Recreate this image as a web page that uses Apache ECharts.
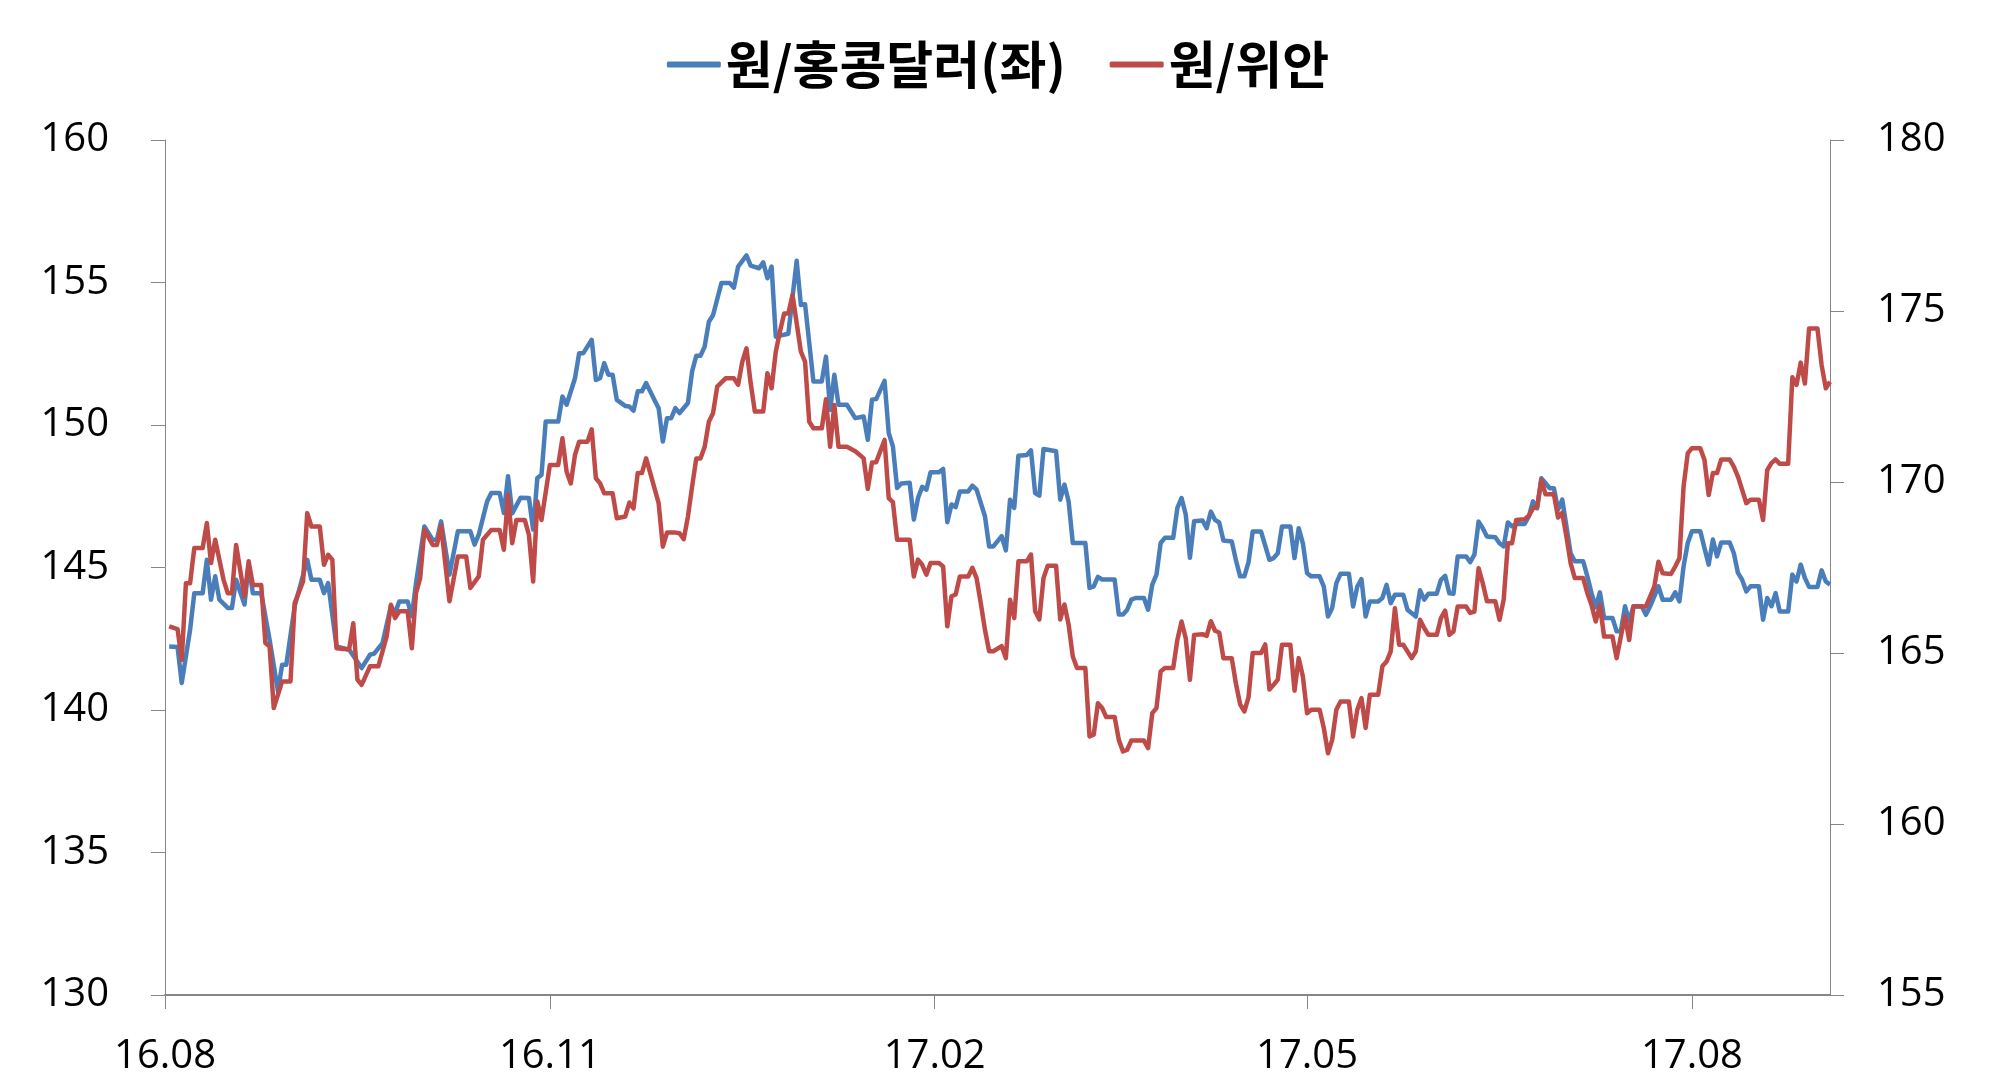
<!DOCTYPE html>
<html>
<head>
<meta charset="utf-8">
<script src="https://cdn.jsdelivr.net/npm/echarts@6/dist/echarts.min.js"></script>
<style>
html,body{margin:0;padding:0;background:#fff;}
#chart{width:1996px;height:1087px;}
</style>
</head>
<body>
<div id="chart"></div>
<script>
const seriesNames = ['원/홍콩달러(좌)', '원/위안'];
const xTickDates = ['2016-08-01', '2016-11-01', '2017-02-01', '2017-05-01', '2017-08-01'];
const xTickLabels = ['16.08', '16.11', '17.02', '17.05', '17.08'];
const xRange = ['2016-08-01', '2017-09-03'];
const leftTicks = [130, 135, 140, 145, 150, 155, 160];
const rightTicks = [155, 160, 165, 170, 175, 180];

const hkdDates = [
'2016-08-02','2016-08-04','2016-08-05','2016-08-07','2016-08-08','2016-08-10','2016-08-11','2016-08-12','2016-08-13','2016-08-14',
'2016-08-16','2016-08-17','2016-08-18','2016-08-20','2016-08-21','2016-08-22','2016-08-24','2016-08-26','2016-08-28','2016-08-29',
'2016-08-30','2016-09-01','2016-09-04','2016-09-05','2016-09-07','2016-09-08','2016-09-09','2016-09-11','2016-09-14','2016-09-17',
'2016-09-19','2016-09-20','2016-09-22','2016-09-24','2016-09-25','2016-09-26','2016-09-28','2016-09-29','2016-09-30','2016-10-02',
'2016-10-04','2016-10-05','2016-10-06','2016-10-08','2016-10-10','2016-10-13','2016-10-14','2016-10-15','2016-10-17','2016-10-18',
'2016-10-20','2016-10-21','2016-10-22','2016-10-23','2016-10-25','2016-10-27','2016-10-28','2016-10-29','2016-10-30','2016-10-31',
'2016-11-03','2016-11-04','2016-11-05','2016-11-07','2016-11-08','2016-11-09','2016-11-11','2016-11-12','2016-11-13','2016-11-14',
'2016-11-15','2016-11-16','2016-11-17','2016-11-19','2016-11-20','2016-11-21','2016-11-22','2016-11-23','2016-11-24','2016-11-26',
'2016-11-27','2016-11-28','2016-11-29','2016-11-30','2016-12-01','2016-12-02','2016-12-04','2016-12-05','2016-12-06','2016-12-07',
'2016-12-08','2016-12-09','2016-12-10','2016-12-12','2016-12-14','2016-12-15','2016-12-16','2016-12-18','2016-12-19','2016-12-21',
'2016-12-22','2016-12-23','2016-12-24','2016-12-25','2016-12-28','2016-12-30','2016-12-31','2017-01-01','2017-01-03','2017-01-05',
'2017-01-06','2017-01-07','2017-01-08','2017-01-09','2017-01-11','2017-01-13','2017-01-15','2017-01-16','2017-01-17','2017-01-18',
'2017-01-20','2017-01-21','2017-01-22','2017-01-23','2017-01-24','2017-01-26','2017-01-27','2017-01-28','2017-01-29','2017-01-30',
'2017-01-31','2017-02-02','2017-02-03','2017-02-04','2017-02-05','2017-02-06','2017-02-07','2017-02-09','2017-02-10','2017-02-11',
'2017-02-13','2017-02-14','2017-02-15','2017-02-17','2017-02-18','2017-02-19','2017-02-20','2017-02-21','2017-02-23','2017-02-24',
'2017-02-25','2017-02-26','2017-02-27','2017-03-02','2017-03-03','2017-03-04','2017-03-05','2017-03-06','2017-03-09','2017-03-10',
'2017-03-11','2017-03-12','2017-03-13','2017-03-16','2017-03-17','2017-03-18','2017-03-19','2017-03-20','2017-03-21','2017-03-23',
'2017-03-24','2017-03-25','2017-03-26','2017-03-27','2017-03-28','2017-03-30','2017-03-31','2017-04-01','2017-04-02','2017-04-03',
'2017-04-04','2017-04-06','2017-04-07','2017-04-08','2017-04-09','2017-04-10','2017-04-11','2017-04-13','2017-04-14','2017-04-15',
'2017-04-16','2017-04-17','2017-04-18','2017-04-20','2017-04-22','2017-04-23','2017-04-24','2017-04-25','2017-04-27','2017-04-28',
'2017-04-29','2017-04-30','2017-05-01','2017-05-02','2017-05-04','2017-05-05','2017-05-06','2017-05-07','2017-05-08','2017-05-09',
'2017-05-11','2017-05-12','2017-05-13','2017-05-14','2017-05-15','2017-05-16','2017-05-18','2017-05-19','2017-05-20','2017-05-21',
'2017-05-22','2017-05-24','2017-05-25','2017-05-27','2017-05-28','2017-05-29','2017-05-30','2017-06-01','2017-06-02','2017-06-03',
'2017-06-04','2017-06-05','2017-06-06','2017-06-08','2017-06-09','2017-06-10','2017-06-11','2017-06-12','2017-06-13','2017-06-15',
'2017-06-16','2017-06-17','2017-06-18','2017-06-19','2017-06-20','2017-06-22','2017-06-23','2017-06-24','2017-06-25','2017-06-26',
'2017-06-27','2017-06-28','2017-06-29','2017-06-30','2017-07-01','2017-07-02','2017-07-03','2017-07-04','2017-07-06','2017-07-07',
'2017-07-08','2017-07-09','2017-07-10','2017-07-11','2017-07-13','2017-07-14','2017-07-15','2017-07-16','2017-07-17','2017-07-18',
'2017-07-20','2017-07-21','2017-07-22','2017-07-23','2017-07-24','2017-07-25','2017-07-27','2017-07-28','2017-07-29','2017-07-30',
'2017-07-31','2017-08-01','2017-08-03','2017-08-04','2017-08-05','2017-08-06','2017-08-07','2017-08-08','2017-08-10','2017-08-11',
'2017-08-12','2017-08-13','2017-08-14','2017-08-15','2017-08-17','2017-08-18','2017-08-19','2017-08-20','2017-08-21','2017-08-22',
'2017-08-24','2017-08-25','2017-08-26','2017-08-27','2017-08-28','2017-08-29','2017-08-31','2017-09-01','2017-09-02','2017-09-03'
];
const hkdValues = [
142.23,142.21,140.95,142.82,144.10,144.10,145.27,143.87,144.69,143.87,
143.58,143.58,144.57,143.70,145.10,144.10,144.10,142.47,140.66,141.59,
141.59,143.64,145.27,144.57,144.57,144.10,144.45,142.23,142.12,141.47,
141.94,141.98,142.35,143.64,143.40,143.81,143.81,143.29,144.45,146.44,
145.97,145.97,146.62,144.75,146.27,146.27,145.80,146.15,147.32,147.61,
147.61,146.91,148.20,146.90,147.45,147.44,146.33,148.14,148.25,150.12,
150.12,151.00,150.71,151.64,152.52,152.52,152.99,151.58,151.64,152.17,
151.76,151.76,150.88,150.67,150.65,150.50,151.18,151.18,151.47,150.88,
150.59,149.42,150.24,150.24,150.59,150.42,150.77,151.88,152.43,152.43,
152.75,153.62,153.85,154.98,154.98,154.82,155.56,155.95,155.59,155.50,
155.71,155.15,155.56,153.10,153.20,155.76,154.21,154.24,151.53,151.53,
152.40,150.53,151.76,150.71,150.71,150.24,150.30,149.48,150.89,150.91,
151.55,149.72,149.25,147.79,147.95,147.97,146.68,147.44,147.83,147.73,
148.34,148.34,148.46,146.59,147.21,147.12,147.67,147.67,147.87,147.73,
146.80,145.74,145.74,146.10,145.60,147.38,147.09,148.92,148.95,149.11,
147.61,147.52,149.16,149.08,147.38,147.91,147.32,145.86,145.86,144.28,
144.34,144.67,144.58,144.58,143.35,143.35,143.52,143.87,143.93,143.93,
143.52,144.40,144.75,145.86,146.04,146.04,147.09,147.44,146.86,145.34,
146.62,146.65,146.38,146.96,146.67,146.58,145.95,145.91,145.25,144.69,
144.69,145.18,146.26,146.26,145.27,145.33,145.50,146.44,146.44,145.33,
146.38,145.85,144.80,144.69,144.69,144.33,143.28,143.58,144.45,144.78,
144.78,143.63,144.33,144.59,143.28,143.81,143.81,143.93,144.39,143.75,
144.04,144.04,143.52,143.28,144.20,143.87,144.08,144.08,144.57,144.71,
144.10,144.08,145.39,145.39,145.19,145.45,146.61,146.38,146.09,146.06,
145.85,145.74,146.58,146.44,146.53,146.53,146.79,147.32,147.08,148.13,
147.96,147.78,147.78,147.03,147.38,146.44,145.50,145.22,145.22,144.69,
144.10,143.60,144.13,143.23,143.23,142.76,142.76,143.64,143.11,143.64,
143.64,143.34,143.64,143.99,144.34,143.87,143.87,144.13,143.81,145.04,
145.86,146.27,146.27,145.68,145.10,145.98,145.39,145.88,145.88,145.51,
144.81,144.57,144.16,144.34,144.34,143.17,143.93,143.64,144.10,143.46,
143.46,144.75,144.51,145.10,144.63,144.32,144.32,144.90,144.51,144.40
];

const cnyDates = [
'2016-08-02','2016-08-04','2016-08-05','2016-08-06','2016-08-07','2016-08-08','2016-08-10','2016-08-11','2016-08-12','2016-08-13',
'2016-08-15','2016-08-16','2016-08-17','2016-08-18','2016-08-20','2016-08-21','2016-08-22','2016-08-24','2016-08-25','2016-08-26',
'2016-08-27','2016-08-29','2016-08-31','2016-09-01','2016-09-03','2016-09-04','2016-09-05','2016-09-07','2016-09-08','2016-09-09',
'2016-09-10','2016-09-11','2016-09-14','2016-09-15','2016-09-16','2016-09-17','2016-09-19','2016-09-21','2016-09-23','2016-09-24',
'2016-09-25','2016-09-26','2016-09-28','2016-09-29','2016-09-30','2016-10-01','2016-10-02','2016-10-04','2016-10-05','2016-10-06',
'2016-10-08','2016-10-10','2016-10-12','2016-10-13','2016-10-15','2016-10-16','2016-10-18','2016-10-20','2016-10-21','2016-10-22',
'2016-10-23','2016-10-24','2016-10-26','2016-10-27','2016-10-28','2016-10-29','2016-10-30','2016-11-01','2016-11-03','2016-11-04',
'2016-11-05','2016-11-06','2016-11-07','2016-11-08','2016-11-10','2016-11-11','2016-11-12','2016-11-13','2016-11-14','2016-11-16',
'2016-11-17','2016-11-19','2016-11-20','2016-11-21','2016-11-22','2016-11-23','2016-11-24','2016-11-25','2016-11-27','2016-11-28',
'2016-11-29','2016-12-01','2016-12-02','2016-12-03','2016-12-04','2016-12-05','2016-12-06','2016-12-07','2016-12-08','2016-12-09',
'2016-12-10','2016-12-11','2016-12-13','2016-12-15','2016-12-16','2016-12-17','2016-12-18','2016-12-19','2016-12-20','2016-12-22',
'2016-12-23','2016-12-24','2016-12-25','2016-12-26','2016-12-27','2016-12-28','2016-12-29','2016-12-31','2017-01-01','2017-01-02',
'2017-01-03','2017-01-05','2017-01-06','2017-01-07','2017-01-08','2017-01-09','2017-01-11','2017-01-13','2017-01-14','2017-01-15',
'2017-01-16','2017-01-17','2017-01-18','2017-01-20','2017-01-21','2017-01-22','2017-01-23','2017-01-26','2017-01-27','2017-01-28',
'2017-01-29','2017-01-30','2017-01-31','2017-02-02','2017-02-03','2017-02-04','2017-02-05','2017-02-06','2017-02-07','2017-02-09',
'2017-02-10','2017-02-11','2017-02-12','2017-02-13','2017-02-14','2017-02-15','2017-02-17','2017-02-18','2017-02-19','2017-02-20',
'2017-02-21','2017-02-23','2017-02-24','2017-02-25','2017-02-26','2017-02-27','2017-02-28','2017-03-02','2017-03-03','2017-03-04',
'2017-03-05','2017-03-06','2017-03-07','2017-03-09','2017-03-10','2017-03-11','2017-03-12','2017-03-13','2017-03-14','2017-03-16',
'2017-03-17','2017-03-18','2017-03-19','2017-03-20','2017-03-23','2017-03-24','2017-03-25','2017-03-26','2017-03-27','2017-03-28',
'2017-03-30','2017-03-31','2017-04-01','2017-04-02','2017-04-03','2017-04-04','2017-04-06','2017-04-07','2017-04-08','2017-04-09',
'2017-04-10','2017-04-11','2017-04-13','2017-04-14','2017-04-15','2017-04-16','2017-04-17','2017-04-18','2017-04-20','2017-04-21',
'2017-04-22','2017-04-23','2017-04-24','2017-04-25','2017-04-27','2017-04-28','2017-04-29','2017-04-30','2017-05-01','2017-05-02',
'2017-05-04','2017-05-05','2017-05-06','2017-05-07','2017-05-08','2017-05-09','2017-05-11','2017-05-12','2017-05-13','2017-05-14',
'2017-05-15','2017-05-16','2017-05-18','2017-05-19','2017-05-20','2017-05-21','2017-05-22','2017-05-23','2017-05-24','2017-05-26',
'2017-05-27','2017-05-28','2017-05-29','2017-05-30','2017-06-01','2017-06-02','2017-06-03','2017-06-04','2017-06-05','2017-06-06',
'2017-06-08','2017-06-09','2017-06-10','2017-06-11','2017-06-12','2017-06-13','2017-06-15','2017-06-16','2017-06-17','2017-06-18',
'2017-06-19','2017-06-20','2017-06-22','2017-06-23','2017-06-24','2017-06-25','2017-06-26','2017-06-27','2017-06-29','2017-06-30',
'2017-07-01','2017-07-02','2017-07-03','2017-07-04','2017-07-06','2017-07-07','2017-07-08','2017-07-09','2017-07-10','2017-07-11',
'2017-07-13','2017-07-14','2017-07-15','2017-07-16','2017-07-17','2017-07-18','2017-07-21','2017-07-22','2017-07-23','2017-07-24',
'2017-07-25','2017-07-27','2017-07-28','2017-07-29','2017-07-30','2017-07-31','2017-08-01','2017-08-03','2017-08-04','2017-08-05',
'2017-08-06','2017-08-07','2017-08-08','2017-08-10','2017-08-11','2017-08-12','2017-08-13','2017-08-14','2017-08-15','2017-08-17',
'2017-08-18','2017-08-19','2017-08-20','2017-08-21','2017-08-22','2017-08-24','2017-08-25','2017-08-26','2017-08-27','2017-08-28',
'2017-08-29','2017-08-31','2017-09-01','2017-09-02','2017-09-03'
];
const cnyValues = [
165.78,165.70,164.80,167.04,167.04,168.07,168.07,168.80,167.63,168.31,
167.14,166.75,166.75,168.16,166.65,167.68,166.99,166.99,165.29,165.19,
163.39,164.17,164.17,166.46,167.09,169.09,168.70,168.70,167.58,167.87,
167.73,165.14,165.10,165.87,164.22,164.07,164.61,164.61,165.49,166.41,
166.02,166.22,166.22,165.14,166.75,167.19,168.60,168.16,168.16,168.72,
166.51,167.82,167.82,166.90,167.24,168.31,168.60,168.60,168.02,169.62,
168.21,168.89,168.89,168.45,167.09,169.43,168.89,170.50,170.50,171.28,
170.30,169.96,170.79,171.18,171.18,171.54,170.11,169.96,169.67,169.67,
168.94,168.99,169.40,169.23,170.26,170.26,170.69,170.26,169.38,168.11,
168.52,168.52,168.50,168.33,168.99,169.87,170.69,170.69,171.03,171.76,
172.01,172.79,173.03,173.03,172.84,173.52,173.91,172.89,172.06,172.06,
173.18,172.74,173.81,174.40,174.93,174.93,175.47,173.81,173.52,171.76,
171.57,171.57,172.42,171.03,172.25,171.03,171.03,170.90,170.80,170.69,
169.80,170.57,170.58,171.23,169.53,169.41,168.31,168.31,167.24,167.73,
167.58,167.29,167.63,167.63,167.53,165.78,166.66,166.71,167.24,167.24,
167.49,167.19,166.46,165.68,165.05,165.05,165.20,164.85,166.56,166.02,
167.68,167.68,167.88,166.22,165.98,167.19,167.55,167.55,165.98,166.42,
165.83,164.90,164.56,164.56,162.56,162.61,163.53,163.39,163.13,163.13,
162.46,162.12,162.17,162.44,162.44,162.22,163.24,163.39,164.46,164.56,
164.56,165.39,165.92,165.43,164.22,165.53,165.55,165.50,165.93,165.65,
165.60,164.85,164.85,164.10,163.50,163.29,163.70,165.00,165.00,165.25,
163.93,164.07,164.22,165.24,165.24,163.90,164.85,164.31,163.24,163.34,
163.34,162.81,162.07,162.46,163.34,163.58,163.58,162.56,163.34,163.68,
162.81,163.78,163.78,164.61,164.75,165.05,166.31,165.24,165.24,164.85,
165.05,165.97,165.73,165.53,165.53,166.02,166.24,165.53,165.63,166.36,
166.36,166.17,166.21,167.48,167.04,166.51,166.51,165.97,166.56,168.21,
168.21,168.89,168.91,169.01,169.23,169.28,170.06,169.64,169.64,168.96,
169.10,168.40,167.63,167.19,167.19,166.75,166.40,165.92,166.40,165.48,
165.48,164.85,165.48,166.07,165.38,166.36,166.36,166.65,166.94,167.67,
167.33,167.31,167.53,167.77,169.87,170.84,170.99,170.99,170.64,169.62,
170.26,170.26,170.66,170.66,170.45,170.16,169.77,169.38,169.48,169.48,
168.89,170.35,170.55,170.66,170.53,170.53,173.06,172.84,173.49,172.88,
174.49,174.49,173.42,172.74,172.93
];

const chart = echarts.init(document.getElementById('chart'), null, {renderer: 'canvas'});
const toTime = (s) => {
  const p = s.split('-').map(Number);
  return Date.UTC(p[0], p[1] - 1, p[2]);
};
const tickTimes = xTickDates.map(toTime);
const labelFont = '"Open Sans", "Liberation Sans", sans-serif';
const axisGray = '#868686';

const option = {
  backgroundColor: '#ffffff',
  animation: false,
  legend: {
    top: 34,
    left: 'center',
    itemWidth: 54,
    itemHeight: 6,
    itemGap: 44,
    icon: 'roundRect',
    textStyle: {
      fontFamily: '"Noto Sans CJK KR", sans-serif',
      fontWeight: 'bold',
      fontSize: 51,
      color: '#000'
    },
    data: seriesNames
  },
  grid: { left: 165, right: 166, top: 140, bottom: 92 },
  xAxis: {
    type: 'value',
    min: toTime(xRange[0]),
    max: toTime(xRange[1]),
    splitLine: { show: false },
    axisLine: { onZero: false, lineStyle: { color: axisGray, width: 2 } },
    axisTick: { show: true, length: 14, lineStyle: { color: axisGray, width: 1 }, customValues: tickTimes },
    axisLabel: {
      customValues: tickTimes,
      margin: 42,
      fontSize: 40,
      fontFamily: labelFont,
      color: '#000',
      formatter: (val) => {
        const i = tickTimes.indexOf(val);
        return i >= 0 ? xTickLabels[i] : '';
      }
    }
  },
  yAxis: [
    {
      type: 'value', min: leftTicks[0], max: leftTicks[leftTicks.length - 1], interval: 5,
      position: 'left',
      splitLine: { show: false },
      axisLine: { show: true, lineStyle: { color: axisGray, width: 1 } },
      axisTick: { show: true, length: 14, lineStyle: { color: axisGray } },
      axisLabel: { margin: 56, fontSize: 40, fontFamily: labelFont, color: '#000' }
    },
    {
      type: 'value', min: rightTicks[0], max: rightTicks[rightTicks.length - 1], interval: 5,
      position: 'right',
      splitLine: { show: false },
      axisLine: { show: true, lineStyle: { color: axisGray, width: 1 } },
      axisTick: { show: true, length: 14, lineStyle: { color: axisGray } },
      axisLabel: { margin: 47, fontSize: 40, fontFamily: labelFont, color: '#000' }
    }
  ],
  series: [
    {
      name: seriesNames[0], type: 'line', yAxisIndex: 0, showSymbol: false, symbol: 'none',
      lineStyle: { color: '#4A7EBB', width: 4.5, join: 'round' },
      itemStyle: { color: '#4A7EBB' },
      data: hkdDates.map((d, i) => [toTime(d), hkdValues[i]])
    },
    {
      name: seriesNames[1], type: 'line', yAxisIndex: 1, showSymbol: false, symbol: 'none',
      lineStyle: { color: '#BE4B48', width: 4.5, join: 'round' },
      itemStyle: { color: '#BE4B48' },
      data: cnyDates.map((d, i) => [toTime(d), cnyValues[i]])
    }
  ]
};
chart.setOption(option);
</script>
</body>
</html>
